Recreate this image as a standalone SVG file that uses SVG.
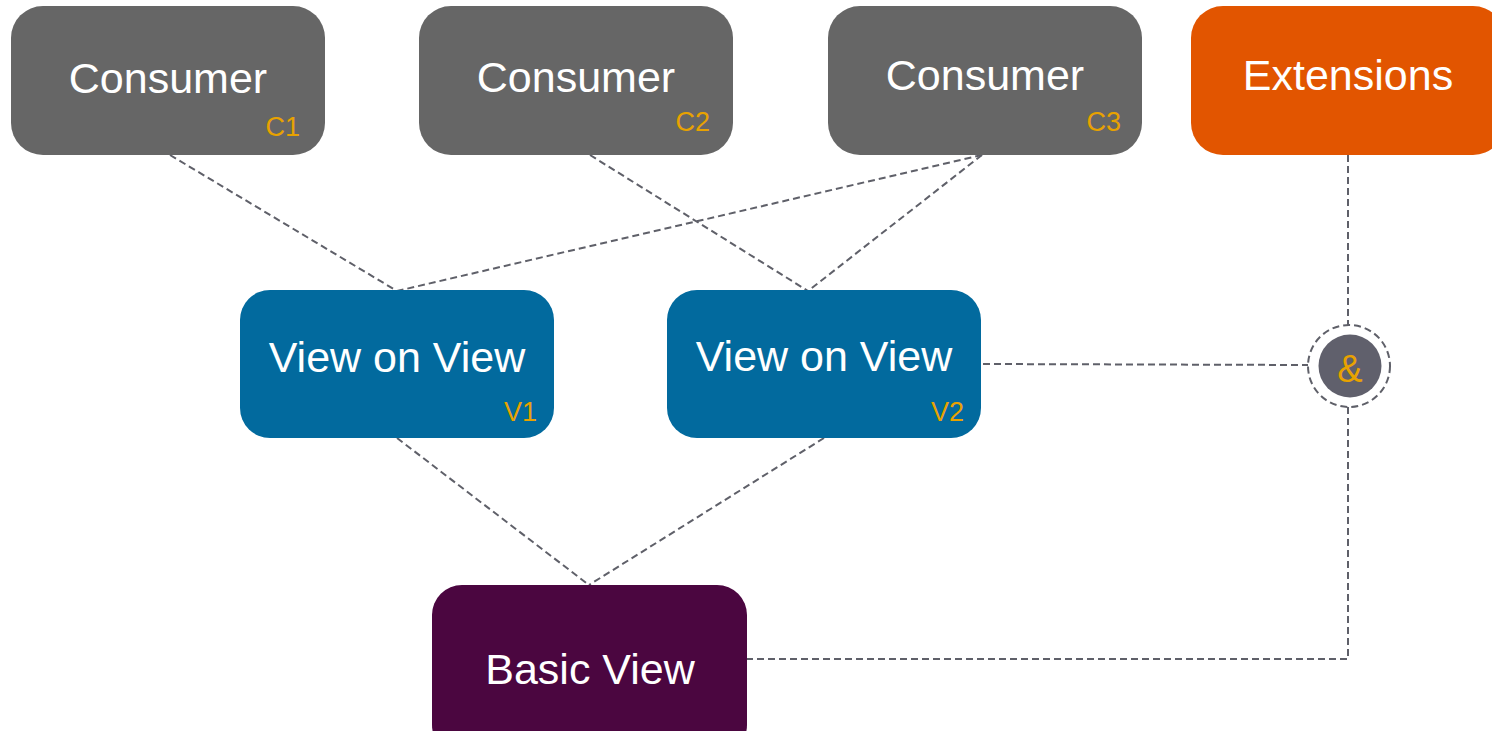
<svg xmlns="http://www.w3.org/2000/svg" width="1492" height="731" viewBox="0 0 1492 731">
<style>
.box{stroke:none}
.consumer{fill:#666666}
.ext{fill:#e25500}
.view{fill:#026a9e}
.basic{fill:#4b0640}
.t{font-family:"Liberation Sans",Arial,sans-serif;font-size:43px;fill:#ffffff;text-anchor:middle}
.lbl{font-family:"Liberation Sans",Arial,sans-serif;font-size:27px;fill:#e8a200;text-anchor:end}
.c{fill:none;stroke:#5f6069;stroke-width:2;stroke-dasharray:7 4}
</style>
<rect width="1492" height="731" fill="#ffffff"/>
<g id="connectors">
<path class="c" d="M170,155 L397,291"/>
<path class="c" d="M590,155 L808,291"/>
<path class="c" d="M982,155 L397,291"/>
<path class="c" d="M982,155 L808,291"/>
<path class="c" d="M397,438 L589,585"/>
<path class="c" d="M824,438 L589,585"/>
<path class="c" d="M1348,155 L1348,326"/>
<path class="c" d="M983,364 L1308,365"/>
<path class="c" d="M1348,407 L1348,659 L747,659"/>
</g>
<g id="c1">
<rect class="box consumer" x="11" y="6" width="314" height="149" rx="32"/>
<text class="t" x="168" y="93">Consumer</text>
<text class="lbl" x="300" y="136">C1</text>
</g>
<g id="c2">
<rect class="box consumer" x="419" y="6" width="314" height="149" rx="32"/>
<text class="t" x="576" y="92">Consumer</text>
<text class="lbl" x="710" y="131">C2</text>
</g>
<g id="c3">
<rect class="box consumer" x="828" y="6" width="314" height="149" rx="32"/>
<text class="t" x="985" y="90">Consumer</text>
<text class="lbl" x="1121" y="131">C3</text>
</g>
<g id="extensions">
<rect class="box ext" x="1191" y="6" width="314" height="149" rx="32"/>
<text class="t" x="1348" y="90">Extensions</text>
</g>
<g id="v1">
<rect class="box view" x="240" y="290" width="314" height="148" rx="30"/>
<text class="t" x="397" y="372">View on View</text>
<text class="lbl" x="537" y="421">V1</text>
</g>
<g id="v2">
<rect class="box view" x="667" y="290" width="314" height="148" rx="30"/>
<text class="t" x="824" y="371">View on View</text>
<text class="lbl" x="964" y="421">V2</text>
</g>
<g id="basic">
<rect class="box basic" x="432" y="585" width="315" height="170" rx="30"/>
<text class="t" x="590" y="684">Basic View</text>
</g>
<g id="and">
<circle cx="1349" cy="366" r="41" fill="#ffffff" stroke="#5f6069" stroke-width="2" stroke-dasharray="7 4"/>
<circle cx="1350" cy="366" r="31.5" fill="#60606c"/>
<text x="1350" y="382" font-family="Liberation Sans, Arial, sans-serif" font-size="38" fill="#e8a200" text-anchor="middle">&amp;</text>
</g>
</svg>
